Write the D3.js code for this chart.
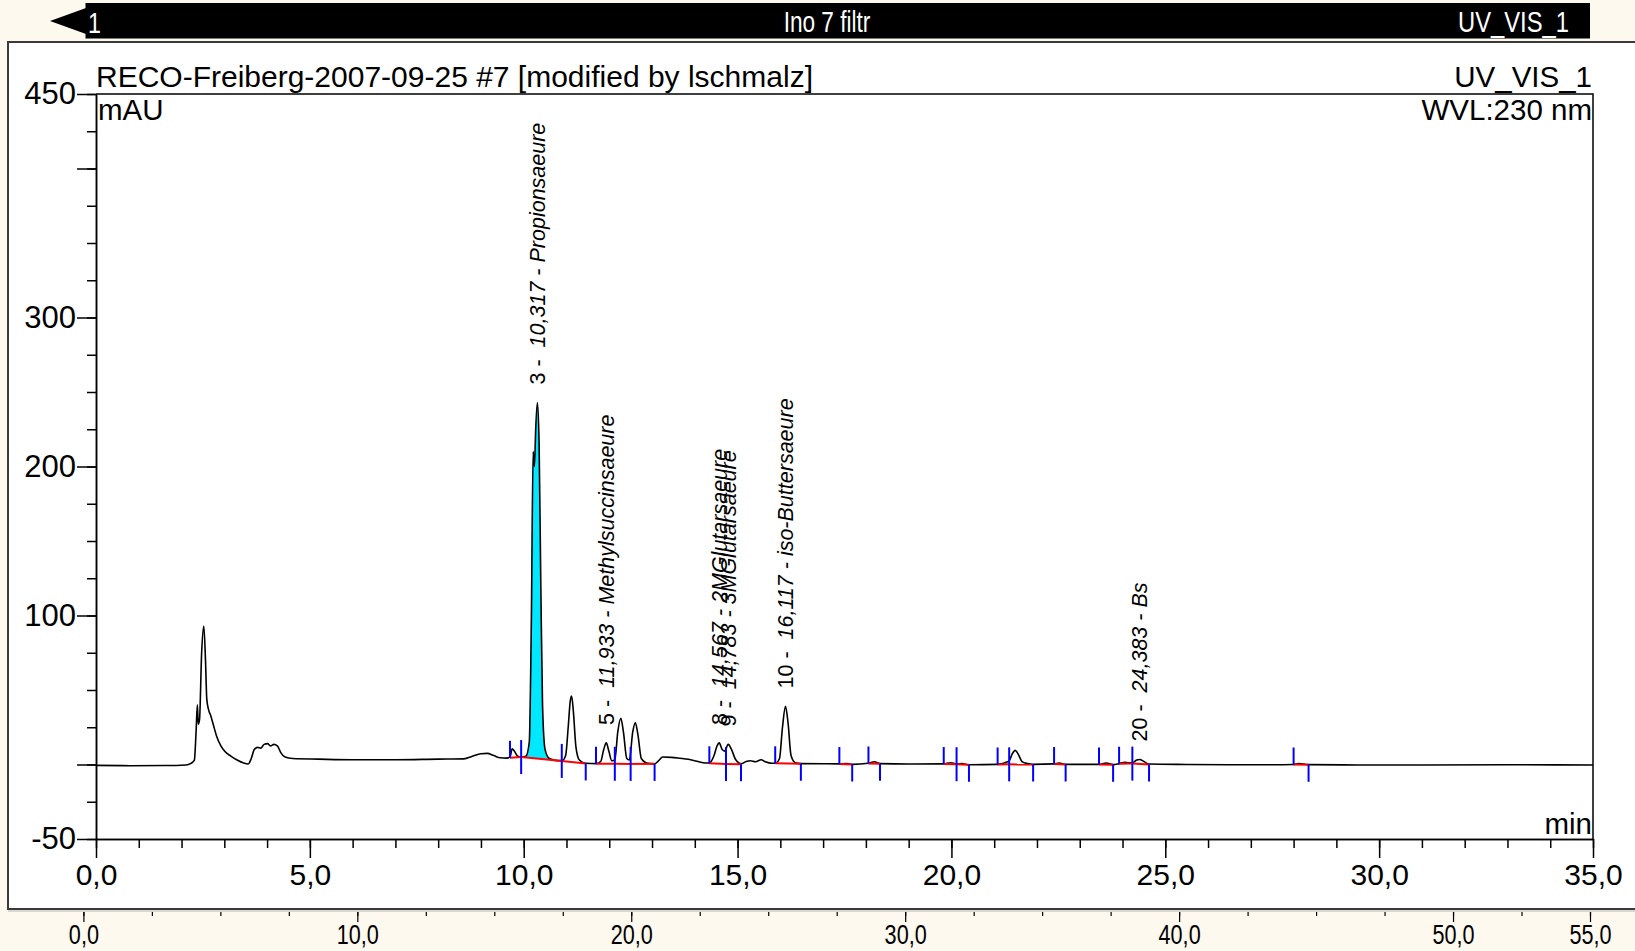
<!DOCTYPE html>
<html>
<head>
<meta charset="utf-8">
<script src="https://cdn.jsdelivr.net/npm/d3@7"></script>
<style>
  html, body { margin: 0; padding: 0; background: #fdf9ee; }
  svg { display: block; }
  text { font-family: "Liberation Sans", Arial, sans-serif; }
</style>
</head>
<body>
<svg id="chart" width="1635" height="951"></svg>
<script>
// chromatogram trace, [time in min, signal in mAU]
const trace = [
  [0.0, -0.6], [0.8, -0.8], [1.6, -0.7], [2.1, -0.3], [2.22, 0.8], [2.3, 3],
  [2.34, 22], [2.37, 40], [2.39, 27], [2.42, 30], [2.47, 75], [2.52, 93],
  [2.56, 70], [2.59, 44], [2.63, 37], [2.68, 33], [2.74, 27], [2.82, 19],
  [2.92, 12.5], [3.02, 8.5], [3.16, 5.5], [3.3, 3], [3.45, 1], [3.56, 0.3],
  [3.63, 4], [3.7, 10], [3.78, 11.5], [3.85, 11], [3.93, 13.5], [4.01, 14],
  [4.08, 12.5], [4.16, 13.5], [4.24, 12.5], [4.32, 8], [4.42, 5], [4.6, 4],
  [5.2, 3.6], [6.0, 3.2], [7.0, 3.2], [8.0, 3.6], [8.6, 3.8], [8.8, 5.5],
  [9.0, 7.2], [9.15, 7.5], [9.3, 6], [9.45, 4.5], [9.6, 4.3], [9.68, 5],
  [9.73, 10.5], [9.78, 9], [9.86, 5.5], [9.94, 5], [10.05, 5.5], [10.13, 15],
  [10.18, 100], [10.22, 210], [10.25, 200], [10.28, 225], [10.32, 243],
  [10.36, 215], [10.4, 120], [10.44, 40], [10.5, 10], [10.6, 4], [10.8, 2.6],
  [10.9, 2.6], [10.98, 6], [11.04, 25], [11.09, 43], [11.12, 46], [11.16, 36],
  [11.22, 12], [11.3, 3], [11.45, 0.8], [11.69, 0.6], [11.8, 2], [11.87, 10],
  [11.93, 14.5], [11.99, 9], [12.06, 2.5], [12.13, 3], [12.2, 22], [12.27, 31],
  [12.33, 22], [12.41, 4], [12.47, 3], [12.55, 22], [12.61, 28], [12.67, 20],
  [12.75, 4], [12.9, 0.8], [13.06, 0.5], [13.15, 2.5], [13.25, 5], [13.45, 4.8],
  [13.65, 4.2], [13.85, 3.5], [14.05, 2.2], [14.25, 1], [14.34, 1], [14.45, 6],
  [14.52, 12.5], [14.57, 14.5], [14.64, 10], [14.7, 9], [14.78, 13.5],
  [14.86, 10], [14.95, 3.5], [15.08, 0.5], [15.2, 2], [15.3, 2.5], [15.42, 1.8],
  [15.55, 3.2], [15.65, 1.8], [15.8, 0.8], [15.88, 0.8], [15.98, 4], [16.05, 25],
  [16.12, 39], [16.18, 28], [16.25, 6], [16.35, 1.2], [16.48, 0.6], [17.0, 0.5],
  [17.38, 0.4], [17.55, 0.7], [17.68, 0.1], [18.06, 0.8], [18.2, 1.8],
  [18.33, 0.6], [19.0, 0.3], [19.82, 0.4], [19.98, 1.2], [20.12, 0.3],
  [20.25, 0.6], [20.41, -0.2], [21.08, 0.1], [21.25, 1.2], [21.35, 2.5],
  [21.42, 7], [21.49, 9.5], [21.56, 7], [21.65, 2], [21.78, 0.6], [21.91, 0.1],
  [22.4, 0.4], [22.52, 1], [22.67, 0.1], [23.45, 0.1], [23.62, 1], [23.78, -0.1],
  [23.92, 0.6], [24.05, 1.5], [24.15, 1.2], [24.23, 1.2], [24.33, 3], [24.4, 3.4],
  [24.5, 2], [24.62, 0.3], [25.5, 0], [26.5, -0.2], [27.5, -0.2], [28.0, 0],
  [28.12, 0.7], [28.35, -0.1], [29.5, -0.3], [31.0, -0.3], [33.0, -0.2],
  [35.0, -0.3]
];

// integrated peaks: start / end (min) and baseline level there (mAU)
const peakStart = [9.68, 9.94, 10.89, 11.69, 12.13, 12.50, 14.34, 14.73, 15.88, 17.38,
  18.06, 19.82, 20.12, 21.08, 21.35, 22.40, 23.45, 23.92, 24.23, 28.00];
const peakEnd = [9.94, 10.89, 11.45, 12.13, 12.50, 13.06, 14.73, 15.08, 16.48, 17.68,
  18.33, 20.12, 20.41, 21.35, 21.91, 22.67, 23.78, 24.23, 24.62, 28.35];
const baseStart = [4.5, 5, 2.4, 0.5, 0.5, 0.4, 0.8, 0.3, 0.8, 0.3,
  0.7, 0.3, 0.2, 0, 0.1, 0.3, 0, 0.5, 0.6, 0];
const baseEnd = [5, 2.4, 0.7, 0.5, 0.4, 0.4, 0.3, 0.2, 0.5, 0,
  0.5, 0.2, -0.2, 0.1, 0, 0, -0.2, 0.6, 0, -0.2];
const shadedPeak = 1;

// named peaks
const labelNum = ["3", "5", "8", "9", "10", "20"];
const labelRT = [10.317, 11.933, 14.567, 14.783, 16.117, 24.383];
const labelName = ["Propionsaeure", "Methylsuccinsaeure", "2MGlutarsaeure",
  "3MGlutarsaeure", "iso-Buttersaeure", "Bs"];
const labelApex = [243, 14.5, 14.5, 13.5, 39, 3.4];

// axis ticks
const yMajor = [-50, 0, 100, 200, 300, 400, 450];
const yLabeled = [-50, 100, 200, 300, 450];
const xMajor = [0, 5, 10, 15, 20, 25, 30, 35];
const navMajor = [0, 10, 20, 30, 40, 50, 55];

const W = 1635, H = 951;
const svg = d3.select("#chart");
const fmtComma = d => d3.format(".1f")(d).replace(".", ",");
const fmtRT = d => d3.format(".3f")(d).replace(".", ",");

// --- backgrounds ---
svg.append("rect").attr("width", W).attr("height", H).attr("fill", "#fdf9ee");

// top bar
svg.append("rect").attr("x", 85.5).attr("y", 3).attr("width", 1504.5).attr("height", 35.5)
  .attr("fill", "black");
svg.append("path").attr("d", "M50,21L86,8L86,34Z").attr("fill", "black");

const narrow = (x, y, txt, anchor, sx) => svg.append("text")
  .attr("transform", `translate(${x},${y}) scale(${sx},1)`)
  .attr("text-anchor", anchor).attr("font-size", 29).attr("fill", "white").text(txt);
narrow(88, 33, "1", "start", 0.8);
narrow(827, 32, "Ino 7 filtr", "middle", 0.78);
narrow(1569, 32, "UV_VIS_1", "end", 0.82);

// panel
svg.append("rect").attr("x", 8).attr("y", 42).attr("width", W).attr("height", 867)
  .attr("fill", "white").attr("stroke", "#3a3a3a").attr("stroke-width", 2);
svg.append("line").attr("x1", 8).attr("x2", W).attr("y1", 911).attr("y2", 911)
  .attr("stroke", "#b5b5b5").attr("stroke-width", 1);

// --- scales ---
const x = d3.scaleLinear().domain([0, 35]).range([96, 1593]);
const y = d3.scaleLinear().domain([-50, 450]).range([839, 94]);

// frame
svg.append("path")
  .attr("d", `M${x(0)},${y(450)}H${x(35)}V${y(-50)}`)
  .attr("fill", "none").attr("stroke", "black").attr("stroke-width", 1.5);

// y axis
const gy = svg.append("g").attr("transform", `translate(${x(0)},0)`);
gy.append("g").call(d3.axisLeft(y).tickValues(d3.range(-50, 451, 25)).tickSize(9)
  .tickSizeOuter(0).tickFormat(""));
gy.append("g").call(d3.axisLeft(y).tickValues(yMajor).tickSize(19).tickSizeOuter(0)
  .tickPadding(1).tickFormat(d => yLabeled.includes(d) ? d : ""));
gy.selectAll("path, line").attr("stroke", "black").attr("stroke-width", 1.5);
gy.selectAll("text").attr("font-size", 31).attr("fill", "black")
  .attr("font-family", '"Liberation Sans", Arial, sans-serif');

// x axis
const gx = svg.append("g").attr("transform", `translate(0,${y(-50)})`);
gx.append("g").call(d3.axisBottom(x).tickValues(d3.range(0, 36, 1)).tickSize(9)
  .tickSizeOuter(0).tickFormat(""));
gx.append("g").call(d3.axisBottom(x).tickValues(xMajor).tickSize(19).tickSizeOuter(0)
  .tickPadding(6).tickFormat(fmtComma));
gx.selectAll("path, line").attr("stroke", "black").attr("stroke-width", 1.5);
gx.selectAll("text").attr("font-size", 30).attr("fill", "black")
  .attr("font-family", '"Liberation Sans", Arial, sans-serif');

// header texts
const plain = (px, py, txt, anchor, size) => svg.append("text").attr("x", px).attr("y", py)
  .attr("text-anchor", anchor).attr("font-size", size || 29.5).attr("fill", "black").text(txt);
plain(96, 87, "RECO-Freiberg-2007-09-25 #7 [modified by lschmalz]", "start", 30);
plain(1592, 87, "UV_VIS_1", "end");
plain(1592, 120, "WVL:230 nm", "end");
plain(98, 120, "mAU", "start");
plain(1592, 834, "min", "end");

// --- shaded peak ---
const s0 = peakStart[shadedPeak], s1 = peakEnd[shadedPeak];
const baseAt = t => baseStart[shadedPeak] + (baseEnd[shadedPeak] - baseStart[shadedPeak]) * (t - s0) / (s1 - s0);
svg.append("path")
  .datum(trace.filter(d => d[0] >= s0 && d[0] <= s1))
  .attr("fill", "#00e8ff")
  .attr("d", d3.area().x(d => x(d[0])).y0(d => y(baseAt(d[0]))).y1(d => y(d[1]))
    .curve(d3.curveMonotoneX));

// --- trace ---
svg.append("path")
  .datum(trace)
  .attr("fill", "none").attr("stroke", "black").attr("stroke-width", 1.6)
  .attr("stroke-linejoin", "round")
  .attr("d", d3.line().x(d => x(d[0])).y(d => y(d[1])).curve(d3.curveMonotoneX));

// --- baselines and delimiters ---
const gb = svg.append("g");
peakStart.forEach((t, i) => {
  gb.append("line")
    .attr("x1", x(t)).attr("y1", y(baseStart[i]))
    .attr("x2", x(peakEnd[i])).attr("y2", y(baseEnd[i]))
    .attr("stroke", "#ff0000").attr("stroke-width", 2);
});
peakStart.forEach((t, i) => {
  gb.append("line")
    .attr("x1", x(t)).attr("x2", x(t))
    .attr("y1", y(baseStart[i])).attr("y2", y(baseStart[i]) - 17)
    .attr("stroke", "#0000ff").attr("stroke-width", 2);
  gb.append("line")
    .attr("x1", x(peakEnd[i])).attr("x2", x(peakEnd[i]))
    .attr("y1", y(baseEnd[i])).attr("y2", y(baseEnd[i]) + 17)
    .attr("stroke", "#0000ff").attr("stroke-width", 2);
});

// --- peak labels ---
const fs = 21.5;
labelRT.forEach((t, i) => {
  const tx = svg.append("text")
    .attr("transform", `translate(${x(t) + 0.36 * fs},${y(labelApex[i]) - 18}) rotate(-90)`)
    .attr("font-size", fs).attr("fill", "black")
    .style("white-space", "pre");
  tx.append("tspan").text(labelNum[i] + " -  ");
  tx.append("tspan").attr("font-style", "italic")
    .text(fmtRT(t) + " - " + labelName[i]);
});

// --- navigator axis (whole run) ---
const x2 = d3.scaleLinear().domain([0, 55]).range([83.4, 1590]);
const gn = svg.append("g").attr("transform", "translate(0,912)");
gn.append("g").call(d3.axisBottom(x2).tickValues(d3.range(0, 55.1, 2.5)).tickSize(4)
  .tickSizeOuter(0).tickFormat(""));
gn.append("g").call(d3.axisBottom(x2).tickValues(navMajor).tickSize(10).tickSizeOuter(0)
  .tickPadding(2).tickFormat(fmtComma));
gn.selectAll("path.domain").remove();
gn.selectAll("line").attr("stroke", "black").attr("stroke-width", 1.2);
gn.selectAll("text").attr("font-size", 28.5).attr("fill", "black")
  .attr("font-family", '"Liberation Sans", Arial, sans-serif')
  .attr("transform", "scale(0.76,1)");
</script>
</body>
</html>
